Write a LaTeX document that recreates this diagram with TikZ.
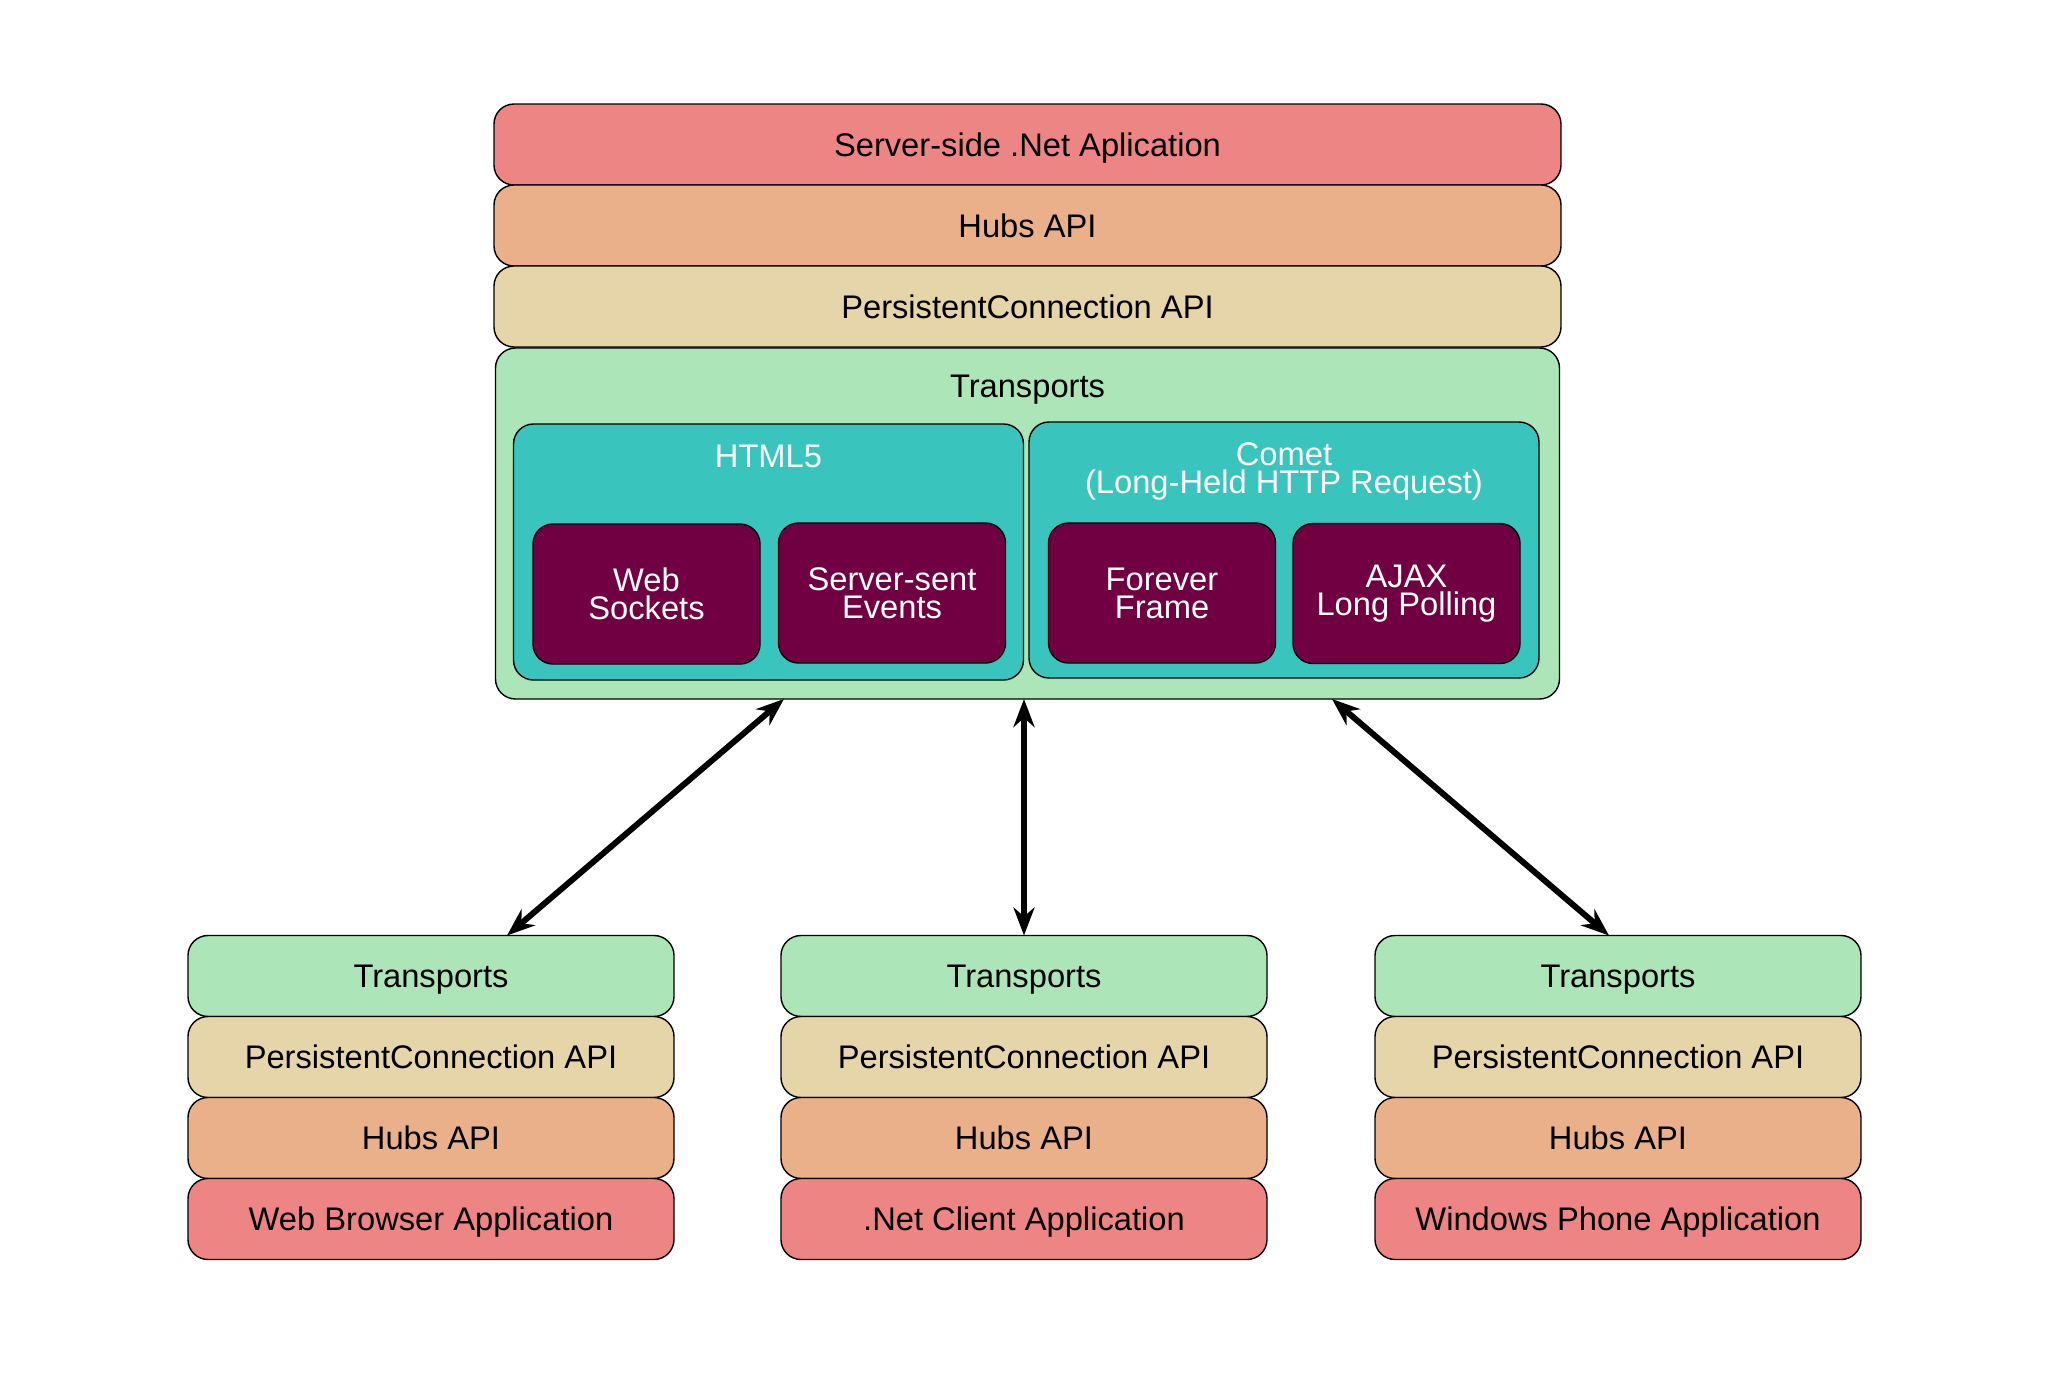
\documentclass[tikz,border=0pt]{standalone}
\usepackage{fontspec}
\setmainfont{Liberation Sans}
\usetikzlibrary{arrows.meta, positioning, calc}
\usepackage{xcolor}
\definecolor{appred}{RGB}{238,133,133}
\definecolor{hubsorange}{RGB}{233,176,138}
\definecolor{pcbeige}{RGB}{229,213,169}
\definecolor{transgreen}{RGB}{171,229,184}
\definecolor{groupteal}{RGB}{57,196,189}
\definecolor{methodpurple}{RGB}{112,0,66}

\begin{document}
\begin{tikzpicture}[
  layer/.style={draw, rounded corners=0.2cm, line width=0.4pt, minimum height=0.81cm, inner sep=0pt, outer sep=0pt, text height=6.7pt, text depth=0pt, font=\fontsize{9.3}{8}\selectfont},
  group/.style={draw, rounded corners=0.2cm, line width=0.4pt, fill=groupteal, minimum width=5.1cm, minimum height=2.56cm, inner sep=0pt},
  method/.style={draw, rounded corners=0.2cm, line width=0.4pt, fill=methodpurple, text=white, align=center, minimum width=2.27cm, minimum height=1.4cm, inner sep=0pt, font=\fontsize{9.3}{8}\selectfont},
  link/.style={{Stealth[length=2.8mm, width=2.1mm]}-{Stealth[length=2.8mm, width=2.1mm]}, line width=1.7pt}
]
\useasboundingbox (0,0) rectangle (20.48,-13.88);

% server side
\node[layer, fill=appred, minimum width=10.67cm] (server) at (10.275,-1.445) {Server-side .Net Aplication};
\node[layer, fill=hubsorange, minimum width=10.67cm, below=0pt of server] (shubs) {Hubs API};
\node[layer, fill=pcbeige, minimum width=10.67cm, below=0pt of shubs] (spc) {PersistentConnection API};
\node[layer, fill=transgreen, minimum width=10.64cm, minimum height=3.51cm, below=0.01cm of spc] (strans) {};
\node[anchor=base, font=\fontsize{9.3}{8}\selectfont] (stranslbl) at ($(strans.north)+(0,-0.49)$) {Transports};

% transport groups
\node[group] (html5) at (7.685,-5.52) {};
\node[anchor=base, text=white, font=\fontsize{9.3}{8}\selectfont] (html5lbl) at ($(html5.north)+(0,-0.44)$) {HTML5};
\node[group] (comet) at (12.84,-5.50) {};
\node[align=center, text=white, font=\fontsize{9.3}{8}\selectfont] (cometlbl) at ($(comet.north)+(0,-0.50)$) {Comet\\(Long-Held HTTP Request)};

\node[method] (websock) at (6.465,-5.94) {Web\\Sockets};
\node[method] (sse) at (8.92,-5.93) {Server-sent\\Events};
\node[method] (forever) at (11.62,-5.93) {Forever\\Frame};
\node[method] (ajax) at (14.065,-5.935) {AJAX\\Long Polling};

% client side
\node[layer, fill=transgreen, minimum width=4.86cm] (ltrans) at (4.31,-9.76) {Transports};
\node[layer, fill=pcbeige, minimum width=4.86cm, below=0pt of ltrans] (lpc) {PersistentConnection API};
\node[layer, fill=hubsorange, minimum width=4.86cm, below=0pt of lpc] (lhubs) {Hubs API};
\node[layer, fill=appred, minimum width=4.86cm, below=0pt of lhubs] (lapp) {Web Browser Application};

\node[layer, fill=transgreen, minimum width=4.86cm] (mtrans) at (10.24,-9.76) {Transports};
\node[layer, fill=pcbeige, minimum width=4.86cm, below=0pt of mtrans] (mpc) {PersistentConnection API};
\node[layer, fill=hubsorange, minimum width=4.86cm, below=0pt of mpc] (mhubs) {Hubs API};
\node[layer, fill=appred, minimum width=4.86cm, below=0pt of mhubs] (mapp) {.Net Client Application};

\node[layer, fill=transgreen, minimum width=4.86cm] (rtrans) at (16.18,-9.76) {Transports};
\node[layer, fill=pcbeige, minimum width=4.86cm, below=0pt of rtrans] (rpc) {PersistentConnection API};
\node[layer, fill=hubsorange, minimum width=4.86cm, below=0pt of rpc] (rhubs) {Hubs API};
\node[layer, fill=appred, minimum width=4.86cm, below=0pt of rhubs] (rapp) {Windows Phone Application};

% connections
\draw[link] ($(strans.south)+(-2.435,0)$) -- ($(ltrans.north)+(0.76,0)$);
\draw[link] (mtrans.north |- strans.south) -- (mtrans.north);
\draw[link] ($(strans.south)+(3.045,0)$) -- ($(rtrans.north)+(-0.09,0)$);
\end{tikzpicture}
\end{document}
